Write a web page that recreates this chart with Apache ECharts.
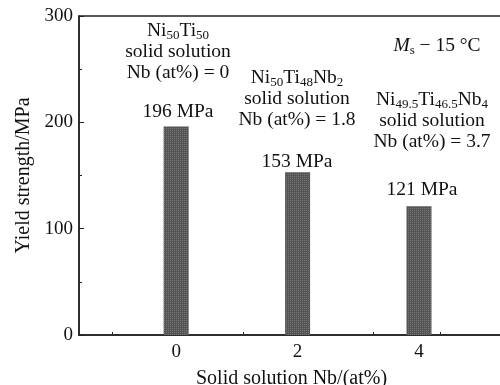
<!DOCTYPE html>
<html><head><meta charset="utf-8">
<script src="https://cdn.jsdelivr.net/npm/echarts@6/dist/echarts.min.js"></script>
<style>html,body{margin:0;padding:0;background:#fff}#c{width:500px;height:385px}</style>
</head><body><div id="c"></div>
<script>
const nbContent = [0, 2, 4];
const yieldStrength = [196, 153, 121];
const xTickLabels = [0, 2, 4];
const xMinorTicks = [-1.05, 1.1, 3.25, 4.35];
const valueLabels = ['196 MPa', '153 MPa', '121 MPa'];

const chart = echarts.init(document.getElementById('c'));
const F = 'Liberation Serif, Times New Roman, serif';
const FS = 19.5;
const rich = {
  n: {fontSize: FS, fontFamily: F, color: '#111', lineHeight: 21},
  s: {fontSize: 13, fontFamily: F, color: '#111', padding: [10, 0, 0, 0], lineHeight: 21},
  i: {fontSize: FS, fontFamily: F, color: '#111', fontStyle: 'italic', lineHeight: 21}
};
function txt(x, y, t) {
  return {type: 'text', x: x, y: y, style: {text: t, rich: rich, align: 'center', verticalAlign: 'middle', font: FS + 'px ' + F, fill: '#111', lineHeight: 21}};
}
chart.setOption({
  animation: false,
  grid: {left: 79, top: 16, right: -4, bottom: 50, outerBoundsMode: 'none', containLabel: false, show: true, borderColor: '#222', borderWidth: 1.5},
  xAxis: {
    type: 'value', min: -1.6, max: 5.4,
    name: 'Solid solution Nb/(at%)', nameLocation: 'middle', nameGap: 34,
    nameTextStyle: {fontFamily: F, fontSize: 20, color: '#111'},
    axisLine: {onZero: false, lineStyle: {color: '#222', width: 1.5}},
    axisTick: {show: true, inside: true, length: 3, customValues: xMinorTicks, lineStyle: {color: '#222'}},
    axisLabel: {customValues: xTickLabels, fontFamily: F, fontSize: 19, color: '#111', margin: 8},
    splitLine: {show: false}
  },
  yAxis: {
    type: 'value', min: 0, max: 300, interval: 100,
    name: 'Yield strength/MPa', nameLocation: 'middle', nameGap: 45, nameRotate: 90,
    nameTextStyle: {fontFamily: F, fontSize: 20, color: '#111'},
    axisLine: {show: true, onZero: false, lineStyle: {color: '#222', width: 1.5}},
    axisTick: {show: true, inside: true, length: 5, lineStyle: {color: '#222'}},
    minorTick: {show: true, splitNumber: 2, length: 3, lineStyle: {color: '#222'}},
    axisLabel: {fontFamily: F, fontSize: 19, color: '#111', margin: 6},
    splitLine: {show: false}
  },
  series: [{
    type: 'bar', barWidth: 25,
    data: nbContent.map((x, i) => [x, yieldStrength[i]]),
    itemStyle: {color: '#555', decal: {symbol: 'rect', symbolSize: 1, color: 'rgba(160,160,160,0.45)', dashArrayX: [1, 1], dashArrayY: [1, 1], rotation: 0}}
  }],
  graphic: [
    txt(178, 52, '{n|Ni}{s|50}{n|Ti}{s|50}\nsolid solution\nNb (at%) = 0'),
    txt(178, 112, valueLabels[0]),
    txt(297, 99, '{n|Ni}{s|50}{n|Ti}{s|48}{n|Nb}{s|2}\nsolid solution\nNb (at%) = 1.8'),
    txt(297, 162, valueLabels[1]),
    txt(432, 121, '{n|Ni}{s|49.5}{n|Ti}{s|46.5}{n|Nb}{s|4}\nsolid solution\nNb (at%) = 3.7'),
    txt(422, 190, valueLabels[2]),
    txt(437, 46, '{i|M}{s|s}{n| − 15 °C}')
  ]
});
</script></body></html>
